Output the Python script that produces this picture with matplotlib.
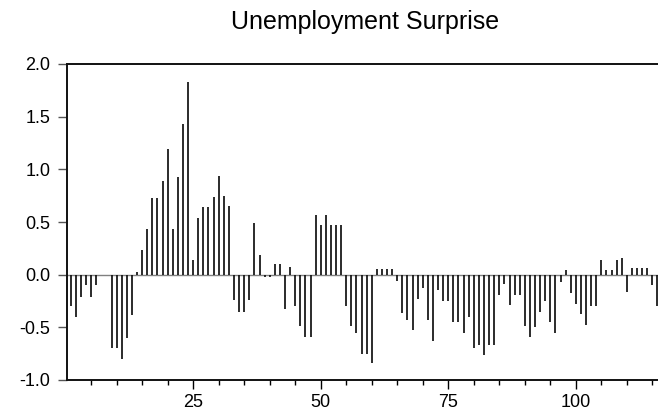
import numpy as np
import matplotlib
matplotlib.use("Agg")
from matplotlib import pyplot as plt
import matplotlib.ticker as ticker

plt.rcParams['font.family'] = ['Liberation Sans', 'DejaVu Sans']

# observations 1..116
obs = np.arange(1, 117)
surprise = [
    -0.30, -0.40, -0.21, -0.10, -0.21, -0.10, 0.00, 0.00, -0.70, -0.70,
    -0.80, -0.60, -0.38, 0.03, 0.23, 0.43, 0.73, 0.73, 0.89, 1.19,
    0.43, 0.93, 1.43, 1.83, 0.14, 0.54, 0.64, 0.64, 0.74, 0.94,
    0.75, 0.65, -0.24, -0.35, -0.35, -0.24, 0.49, 0.19, -0.02, -0.02,
    0.10, 0.10, -0.33, 0.07, -0.30, -0.49, -0.59, -0.59, 0.57, 0.47,
    0.57, 0.47, 0.47, 0.47, -0.30, -0.49, -0.55, -0.75, -0.75, -0.84,
    0.05, 0.05, 0.05, 0.05, -0.06, -0.36, -0.43, -0.53, -0.23, -0.13,
    -0.43, -0.63, -0.15, -0.25, -0.25, -0.45, -0.45, -0.55, -0.40, -0.70,
    -0.67, -0.76, -0.67, -0.67, -0.19, -0.09, -0.29, -0.19, -0.19, -0.49,
    -0.59, -0.50, -0.35, -0.25, -0.45, -0.55, -0.07, 0.04, -0.17, -0.28,
    -0.37, -0.48, -0.30, -0.30, 0.14, 0.04, 0.04, 0.14, 0.16, -0.16,
    0.06, 0.06, 0.06, 0.06, -0.10, -0.30,
]
yticks = [-1.0, -0.5, 0.0, 0.5, 1.0, 1.5, 2.0]
xticks = [25, 50, 75, 100]

fig = plt.figure(figsize=(6.58, 4.17), dpi=100)
ax = fig.add_axes([67/658, 37/417, 592/658, 316/417])

ax.axhline(0, color='#808080', lw=1.0, zorder=1)
ax.vlines(obs, 0, surprise, colors='#111111', lw=1.25, zorder=2)

ax.set_xlim(0.27, 116.3)
ax.set_ylim(-1.0, 2.0)
ax.set_yticks(yticks)
ax.yaxis.set_major_formatter(ticker.FormatStrFormatter('%.1f'))
ax.set_xticks(xticks)
ax.xaxis.set_minor_locator(ticker.MultipleLocator(5))

ax.tick_params(axis='y', direction='out', length=6.5, width=1.0,
               color='#555555', labelsize=13, pad=5.5)
ax.tick_params(axis='x', which='major', direction='out', length=6.5,
               width=1.0, labelsize=13, pad=3.5)
ax.tick_params(axis='x', which='minor', direction='out', length=3.5,
               width=1.0)

for side in ['top', 'left', 'bottom']:
    ax.spines[side].set_linewidth(1.4)
    ax.spines[side].set_color('#111111')
ax.spines['right'].set_visible(False)

fig.text(365/658, 1 - 29/417, "Unemployment Surprise", ha='center',
         va='baseline', fontsize=18)

fig.savefig("out.png", dpi=100)
